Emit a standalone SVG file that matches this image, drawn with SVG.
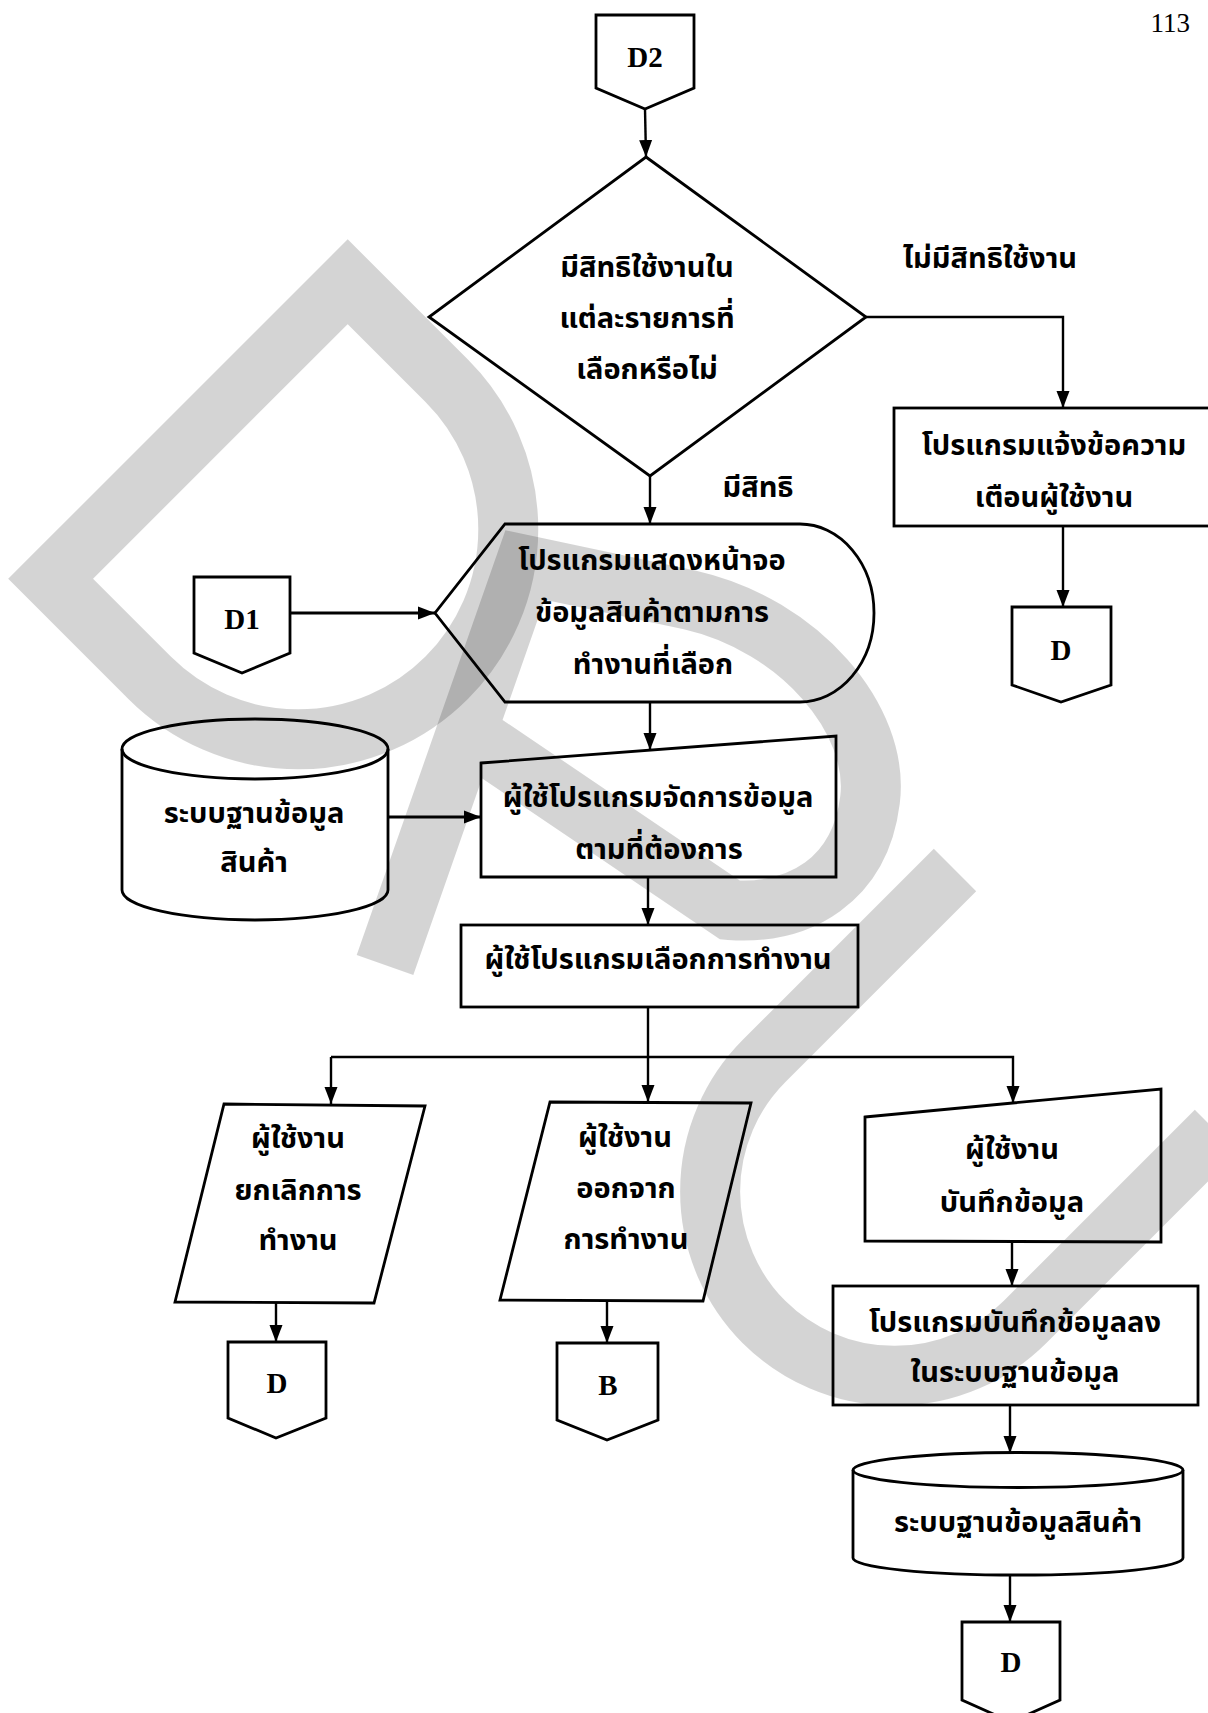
<svg xmlns="http://www.w3.org/2000/svg" width="1208" height="1713" viewBox="0 0 1208 1713">
<style>
.wm{fill:none;stroke:#000;stroke-opacity:0.17;stroke-width:60;stroke-linejoin:miter;stroke-linecap:butt}
.s{fill:none;stroke:#000;stroke-width:2.8;stroke-linejoin:miter}
.c{fill:none;stroke:#000;stroke-width:2.4}
.ct{fill:none;stroke:#000;stroke-width:3.2}
.t{font-family:"Noto Sans Thai","Noto Sans","DejaVu Sans",sans-serif;font-weight:bold;font-size:29px;text-anchor:middle;fill:#000}
.lbl{font-family:"Liberation Serif",serif;font-weight:bold;font-size:29px;text-anchor:middle;fill:#000}
.pg{font-family:"Liberation Serif",serif;font-size:27px;fill:#000}
</style>
<defs>
<marker id="ah" markerUnits="userSpaceOnUse" markerWidth="17" markerHeight="14" viewBox="0 0 17 14" refX="17" refY="7" orient="auto">
<path d="M0,0.5 L17,7 L0,13.5 Z" fill="#000"/>
</marker>
</defs>
<rect width="1208" height="1713" fill="#fff"/>
<g id="watermark">
<path class="wm" d="M50.6,578.8 L347.7,281.7 L446.7,380.7 A210,210 0 0 1 446.7,677.8 A210,210 0 0 1 149.6,677.8 Z"/>
<path class="wm" d="M385,965 L525,565 L690,600 C800,625 880,720 870,800 C860,880 800,915 730,910 L467,732"/>
<path class="wm" d="M955,870 L764,1061 A185,185 0 0 0 764,1322 A185,185 0 0 0 1025,1322 L1216,1131"/>
</g>
<text class="pg" x="1190" y="32" text-anchor="end">113</text>
<g id="connectors">
<line class="c" x1="645" y1="109" x2="646" y2="157" marker-end="url(#ah)"/>
<polyline class="c" points="866,317 1063,317 1063,408" marker-end="url(#ah)"/>
<line class="c" x1="1063" y1="526" x2="1063" y2="607" marker-end="url(#ah)"/>
<line class="c" x1="650" y1="476" x2="650" y2="524" marker-end="url(#ah)"/>
<line class="ct" x1="290" y1="613" x2="435" y2="613" marker-end="url(#ah)"/>
<line class="c" x1="650" y1="702" x2="650" y2="750" marker-end="url(#ah)"/>
<line class="ct" x1="388" y1="817" x2="481" y2="817" marker-end="url(#ah)"/>
<line class="c" x1="648" y1="877" x2="648" y2="925" marker-end="url(#ah)"/>
<line class="c" x1="648" y1="1007" x2="648" y2="1102" marker-end="url(#ah)"/>
<polyline class="c" points="331,1057 1013,1057 1013,1103" marker-end="url(#ah)"/>
<line class="c" x1="331" y1="1057" x2="331" y2="1104" marker-end="url(#ah)"/>
<line class="c" x1="276" y1="1303" x2="276" y2="1342" marker-end="url(#ah)"/>
<line class="c" x1="607" y1="1300" x2="607" y2="1343" marker-end="url(#ah)"/>
<line class="c" x1="1012" y1="1242" x2="1012" y2="1286" marker-end="url(#ah)"/>
<line class="c" x1="1010" y1="1405" x2="1010" y2="1453" marker-end="url(#ah)"/>
<line class="c" x1="1010" y1="1575" x2="1010" y2="1622" marker-end="url(#ah)"/>
</g>
<g id="n-d2">
<polygon class="s" points="596,15 694,15 694,88 645,109 596,88"/>
<text class="lbl" x="645" y="67">D2</text>
</g>
<g id="n-decision">
<polygon class="s" points="646,157 866,317 650,476 429,317"/>
<text class="t" x="647" y="277">มีสิทธิใช้งานใน</text>
<text class="t" x="647" y="328">แต่ละรายการที่</text>
<text class="t" x="647" y="379">เลือกหรือไม่</text>
</g>
<g id="lbl-no">
<text class="t" x="990" y="268">ไม่มีสิทธิใช้งาน</text>
</g>
<g id="lbl-yes">
<text class="t" x="758" y="497">มีสิทธิ</text>
</g>
<g id="n-warn">
<rect class="s" x="894" y="408" width="330" height="118"/>
<text class="t" x="1054" y="455">โปรแกรมแจ้งข้อความ</text>
<text class="t" x="1054" y="507">เตือนผู้ใช้งาน</text>
</g>
<g id="n-d-right">
<polygon class="s" points="1012,607 1111,607 1111,685 1061,702 1012,685"/>
<text class="lbl" x="1061" y="660">D</text>
</g>
<g id="n-d1">
<polygon class="s" points="194,577 290,577 290,653 242,673 194,653"/>
<text class="lbl" x="242" y="629">D1</text>
</g>
<g id="n-display">
<path class="s" d="M505,524 L800,524 A74,89 0 0 1 800,702 L505,702 L435,613 Z"/>
<text class="t" x="652" y="570">โปรแกรมแสดงหน้าจอ</text>
<text class="t" x="652" y="622">ข้อมูลสินค้าตามการ</text>
<text class="t" x="653" y="674">ทำงานที่เลือก</text>
</g>
<g id="n-db1">
<path class="s" d="M122,749 A133,30 0 0 1 388,749 L388,890 A133,30 0 0 1 122,890 Z"/>
<path class="s" d="M122,749 A133,30 0 0 0 388,749"/>
<text class="t" x="254" y="823">ระบบฐานข้อมูล</text>
<text class="t" x="254" y="872">สินค้า</text>
</g>
<g id="n-manage">
<polygon class="s" points="481,763 836,736 836,877 481,877"/>
<text class="t" x="658" y="807">ผู้ใช้โปรแกรมจัดการข้อมูล</text>
<text class="t" x="659" y="859">ตามที่ต้องการ</text>
</g>
<g id="n-choose">
<rect class="s" x="461" y="925" width="397" height="82"/>
<text class="t" x="658" y="969">ผู้ใช้โปรแกรมเลือกการทำงาน</text>
</g>
<g id="n-cancel">
<polygon class="s" points="224,1104 425,1106 374,1303 175,1302"/>
<text class="t" x="298" y="1148">ผู้ใช้งาน</text>
<text class="t" x="298" y="1200">ยกเลิกการ</text>
<text class="t" x="298" y="1250">ทำงาน</text>
</g>
<g id="n-d-left">
<polygon class="s" points="228,1342 326,1342 326,1418 276,1438 228,1418"/>
<text class="lbl" x="277" y="1393">D</text>
</g>
<g id="n-exit">
<polygon class="s" points="550,1102 751,1103 703,1301 500,1300"/>
<text class="t" x="625" y="1147">ผู้ใช้งาน</text>
<text class="t" x="626" y="1198">ออกจาก</text>
<text class="t" x="626" y="1249">การทำงาน</text>
</g>
<g id="n-b">
<polygon class="s" points="557,1343 658,1343 658,1420 607,1440 557,1420"/>
<text class="lbl" x="608" y="1395">B</text>
</g>
<g id="n-save-input">
<polygon class="s" points="865,1117 1161,1089 1161,1242 865,1241"/>
<text class="t" x="1012" y="1159">ผู้ใช้งาน</text>
<text class="t" x="1012" y="1212">บันทึกข้อมูล</text>
</g>
<g id="n-save-proc">
<rect class="s" x="833" y="1286" width="365" height="119"/>
<text class="t" x="1015" y="1332">โปรแกรมบันทึกข้อมูลลง</text>
<text class="t" x="1015" y="1382">ในระบบฐานข้อมูล</text>
</g>
<g id="n-db2">
<path class="s" d="M853,1470 A165,17.5 0 0 1 1183,1470 L1183,1558 A165,17 0 0 1 853,1558 Z"/>
<path class="s" d="M853,1470 A165,17.5 0 0 0 1183,1470"/>
<text class="t" x="1018" y="1532">ระบบฐานข้อมูลสินค้า</text>
</g>
<g id="n-d-bottom">
<polygon class="s" points="962,1622 1060,1622 1060,1700 1011,1722 962,1700"/>
<text class="lbl" x="1011" y="1672">D</text>
</g>
</svg>
